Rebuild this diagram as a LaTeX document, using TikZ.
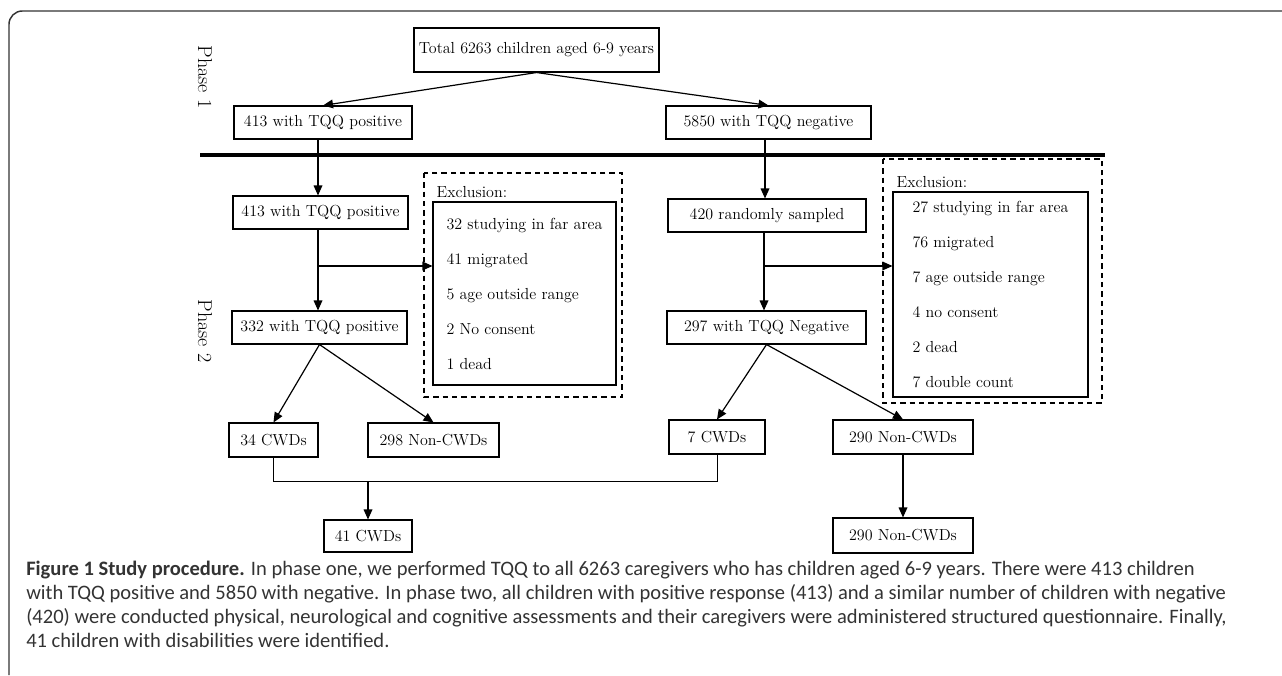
\documentclass[tikz,border=0pt]{standalone}
\usepackage{fontspec}
\newfontfamily\capfont{Carlito}
\usetikzlibrary{arrows.meta}
\definecolor{capgray}{rgb}{0.2,0.2,0.2}
\begin{document}
\begin{tikzpicture}[x=0.75pt,y=-0.75pt,font=\fontsize{12}{14}\selectfont]
	\tikzstyle{every node}+=[inner sep=0pt]
	\tikzstyle{box}=[draw,black,line width=0.8pt,minimum height=24.75pt]
	\tikzstyle{arr}=[black,line width=0.9pt,-{Triangle[length=7.5pt,width=6.5pt]}]
	\tikzstyle{dashbox}=[black,line width=0.8pt,dash pattern=on 4pt off 3pt]
	\useasboundingbox (0,0) rectangle (1282,675);
	\draw [capgray,line width=1.1pt,rounded corners=10] (1282,11) -- (9,11) -- (9,675);
	% phase 1
	\node [rotate=-90,font=\fontsize{15}{17}\selectfont] (ph1) at (205,77) {Phase 1};
	\node [box,minimum width=183.75pt,minimum height=33pt] (total) at (536.5,50) {Total 6263 children aged 6-9 years};
	\node [box,minimum width=133.5pt] (pos1) at (323,122.5) {413 with TQQ positive};
	\node [box,minimum width=153.75pt] (neg1) at (768.5,122.5) {5850 with TQQ negative};
	\draw [arr] (total.south) -- (pos1.north);
	\draw [arr] (total.south) -- (neg1.north);
	\draw [black,line width=3pt] (200,155) -- (1105,155);
	% phase 2
	\node [rotate=-90,font=\fontsize{15}{17}\selectfont] (ph2) at (205,331) {Phase 2};
	\node [box,minimum width=131.25pt] (pos2) at (320.5,212.5) {413 with TQQ positive};
	\node [box,minimum width=131.25pt] (pos3) at (319.5,327.5) {332 with TQQ positive};
	\node [box,minimum width=148.5pt] (rand) at (767,215.5) {420 randomly sampled};
	\node [box,minimum width=149.25pt] (neg3) at (766.5,327.5) {297 with TQQ Negative};
	\draw [arr] (318,139) -- (pos2.north -| 318,0);
	\draw [arr] (765,139) -- (rand.north -| 765,0);
	\draw [arr] (318,229) -- (pos3.north -| 318,0);
	\draw [arr] (764,232) -- (neg3.north -| 764,0);
	% exclusions
	\node [box,minimum width=137.25pt,minimum height=137.25pt,align=left,font=\fontsize{12}{26.25}\selectfont] (exclA) at (524.5,293.5)
		{32 studying in far area\\41 migrated\\5 age outside range\\2 No consent\\1 dead};
	\node [anchor=south west,inner sep=3pt] (exclAlab) at (exclA.north west) {Exclusion:};
	\draw [dashbox] (424,173) rectangle (622,397);
	\node [box,minimum width=146.25pt,minimum height=153.75pt,align=left,font=\fontsize{12}{26.25}\selectfont] (exclB) at (990.5,294.5)
		{27 studying in far area\\76 migrated\\7 age outside range\\4 no consent\\2 dead\\7 double count};
	\node [anchor=south west,inner sep=3pt] (exclBlab) at (exclB.north west) {Exclusion:};
	\draw [dashbox] (883,159) rectangle (1102,403);
	\coordinate (brA) at (318,266);
	\coordinate (brB) at (764,266);
	\draw [arr] (brA) -- (exclA.west |- brA);
	\draw [arr] (brB) -- (exclB.west |- brB);
	% outcomes
	\node [box,minimum width=66.75pt,minimum height=25.5pt] (cwd34) at (273.5,440) {34 CWDs};
	\node [box,minimum width=98.25pt,minimum height=25.5pt] (non298) at (433.5,440) {298 Non-CWDs};
	\node [box,minimum width=72pt,minimum height=25.5pt] (cwd7) at (717,437) {7 CWDs};
	\node [box,minimum width=105pt,minimum height=25.5pt] (non290) at (903,437) {290 Non-CWDs};
	\draw [arr] (pos3.south) -- (cwd34.north);
	\draw [arr] (pos3.south) -- (non298.north);
	\draw [arr] (neg3.south) -- (cwd7.north);
	\draw [arr] (neg3.south) -- (non290.north);
	\node [box,minimum width=66pt,minimum height=24pt] (cwd41) at (368,536) {41 CWDs};
	\node [box,minimum width=105pt,minimum height=26.25pt] (non290b) at (903,535.5) {290 Non-CWDs};
	\coordinate (join) at (368,481);
	\draw [black,line width=0.6pt] (cwd34.south) -- (cwd34.south |- join) -- (cwd7.south |- join) -- (cwd7.south);
	\draw [arr] (join) -- (cwd41.north);
	\draw [arr] (non290.south) -- (non290b.north);
	% caption
	\node [anchor=west,align=left,text=capgray,font=\capfont\fontsize{15.4}{17}\selectfont] (cap) at (26,604)
		{\textbf{Figure 1 Study procedure.} In phase one, we performed TQQ to all 6263 caregivers who has children aged 6-9 years. There were 413 children\\[1pt]
		with TQQ positive and 5850 with negative. In phase two, all children with positive response (413) and a similar number of children with negative\\[1pt]
		(420) were conducted physical, neurological and cognitive assessments and their caregivers were administered structured questionnaire. Finally,\\[1pt]
		41 children with disabilities were identified.};
\end{tikzpicture}
\end{document}
